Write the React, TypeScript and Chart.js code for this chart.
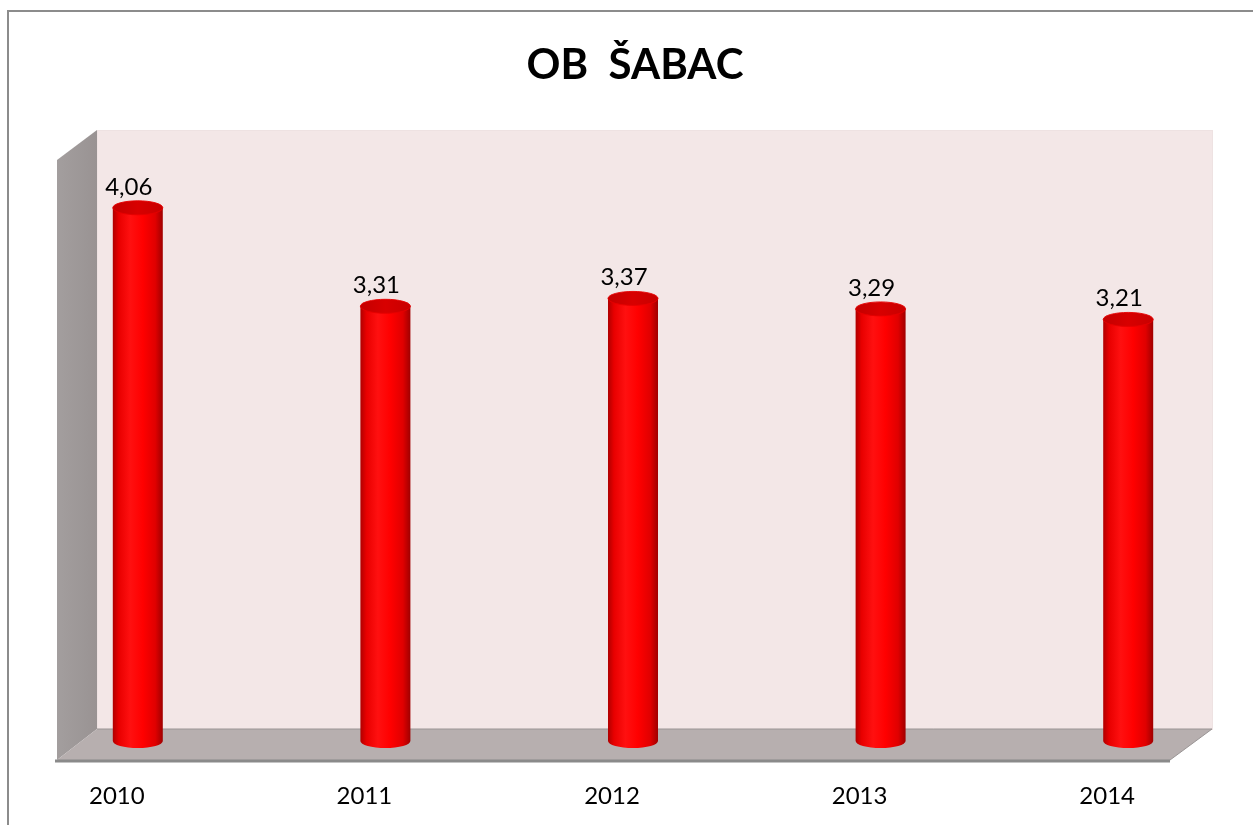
import React, { useEffect, useRef } from "react";
import { Chart, registerables } from "chart.js";

Chart.register(...registerables);

const TITLE = "OB  ŠABAC";
const CATEGORIES = ["2010", "2011", "2012", "2013", "2014"];
const VALUES = [4.06, 3.31, 3.37, 3.29, 3.21];
const VALUE_LABELS = ["4,06", "3,31", "3,37", "3,29", "3,21"];
const Y_MIN = 0;
const Y_MAX = 4.5;

const FONT = "Lato, 'Open Sans', sans-serif";

const decoPlugin = {
  id: "deco",
  beforeDraw(chart: any) {
    const ctx = chart.ctx;
    const ca = chart.chartArea;
    ctx.save();
    ctx.fillStyle = "#ffffff";
    ctx.fillRect(0, 0, chart.width, chart.height);
    // outer border (left + top)
    ctx.strokeStyle = "#8c8c8c";
    ctx.lineWidth = 2;
    ctx.beginPath();
    ctx.moveTo(8, chart.height);
    ctx.lineTo(8, 11);
    ctx.lineTo(chart.width, 11);
    ctx.stroke();

    const fl = ca.left + 43; // front left x
    const bl = fl + 40; // back left x
    const br = ca.right - 40; // back right x
    const fr = br - 42; // front right x
    const backTop = ca.top - 20;
    const backBottom = ca.bottom - 12;
    const frontBottom = ca.bottom + 19;
    const frontTop = backTop + 30;

    // back wall
    ctx.fillStyle = "#f3e7e7";
    ctx.fillRect(bl, backTop, br - bl, backBottom - backTop);
    ctx.strokeStyle = "#eee2e2";
    ctx.lineWidth = 1;
    ctx.strokeRect(bl + 0.5, backTop + 0.5, br - bl, backBottom - backTop);

    // left side wall
    const g = ctx.createLinearGradient(fl, 0, bl, 0);
    g.addColorStop(0, "#a39e9e");
    g.addColorStop(1, "#999393");
    ctx.fillStyle = g;
    ctx.beginPath();
    ctx.moveTo(fl, frontTop);
    ctx.lineTo(bl, backTop);
    ctx.lineTo(bl, backBottom);
    ctx.lineTo(fl, frontBottom);
    ctx.closePath();
    ctx.fill();

    // floor
    ctx.fillStyle = "#b7afaf";
    ctx.beginPath();
    ctx.moveTo(fl, frontBottom);
    ctx.lineTo(bl, backBottom);
    ctx.lineTo(br, backBottom);
    ctx.lineTo(fr, frontBottom);
    ctx.closePath();
    ctx.fill();
    ctx.strokeStyle = "#9a9595";
    ctx.lineWidth = 1;
    ctx.beginPath();
    ctx.moveTo(bl, backBottom);
    ctx.lineTo(br, backBottom);
    ctx.lineTo(fr, frontBottom);
    ctx.stroke();
    ctx.strokeStyle = "#8a8a8a";
    ctx.lineWidth = 3;
    ctx.beginPath();
    ctx.moveTo(fl - 2, frontBottom + 1);
    ctx.lineTo(fr, frontBottom + 1);
    ctx.stroke();

    // title
    ctx.fillStyle = "#000000";
    ctx.font = `bold 42px ${FONT}`;
    ctx.textAlign = "center";
    ctx.textBaseline = "alphabetic";
    ctx.fillText(TITLE, 635, 79);
    ctx.restore();
  },
  afterDatasetsDraw(chart: any) {
    const ctx = chart.ctx;
    const meta = chart.getDatasetMeta(0);
    ctx.save();
    meta.data.forEach((bar: any, i: number) => {
      const cx = bar.x;
      const top = bar.y;
      const base = bar.base;
      const w = bar.width;
      const rx = w / 2;
      const ry = 7;
      const grad = ctx.createLinearGradient(cx - rx, 0, cx + rx, 0);
      grad.addColorStop(0, "#b00000");
      grad.addColorStop(0.12, "#e80000");
      grad.addColorStop(0.35, "#ff1010");
      grad.addColorStop(0.6, "#ff0000");
      grad.addColorStop(0.85, "#e00000");
      grad.addColorStop(1, "#a00000");
      ctx.fillStyle = grad;
      ctx.beginPath();
      ctx.moveTo(cx - rx, top);
      ctx.lineTo(cx - rx, base);
      ctx.ellipse(cx, base, rx, ry, 0, Math.PI, 0, true);
      ctx.lineTo(cx + rx, top);
      ctx.closePath();
      ctx.fill();
      // top cap
      const tg = ctx.createLinearGradient(cx - rx, top, cx + rx, top);
      tg.addColorStop(0, "#c40000");
      tg.addColorStop(0.5, "#d80000");
      tg.addColorStop(1, "#c80000");
      ctx.fillStyle = tg;
      ctx.beginPath();
      ctx.ellipse(cx, top, rx, ry, 0, 0, Math.PI * 2);
      ctx.fill();
      ctx.strokeStyle = "rgba(230,0,0,0.9)";
      ctx.lineWidth = 1;
      ctx.stroke();

      // value label
      ctx.fillStyle = "#000000";
      ctx.font = `24px ${FONT}`;
      ctx.textAlign = "center";
      ctx.textBaseline = "alphabetic";
      ctx.fillText(VALUE_LABELS[i], cx - 9, top - 13);
    });
    ctx.restore();
  },
};

export default function App() {
  const ref = useRef<HTMLCanvasElement | null>(null);
  useEffect(() => {
    document.body.style.margin = "0";
    document.body.style.overflow = "hidden";
    if (!ref.current) return;
    const chart = new Chart(ref.current, {
      type: "bar",
      data: {
        labels: CATEGORIES,
        datasets: [
          {
            data: VALUES,
            backgroundColor: "rgba(0,0,0,0)",
            borderWidth: 0,
            barThickness: 50,
          },
        ],
      },
      options: {
        animation: false,
        responsive: false,
        devicePixelRatio: 1,
        layout: { padding: { left: 14, right: 1, top: 150, bottom: 20 } },
        plugins: {
          legend: { display: false },
          title: { display: false },
          tooltip: { enabled: false },
        },
        scales: {
          x: {
            offset: true,
            grid: { display: false },
            border: { display: false },
            afterFit: (axis: any) => {
              axis.height = 64;
            },
            ticks: {
              color: "#000000",
              font: { family: FONT, size: 24 },
              padding: 33,
              labelOffset: -21,
              maxRotation: 0,
            },
          },
          y: {
            display: false,
            min: Y_MIN,
            max: Y_MAX,
          },
        },
      },
      plugins: [decoPlugin],
    });
    return () => chart.destroy();
  }, []);
  return (
    <div style={{ position: "fixed", left: 0, top: 0, width: 1253, height: 825 }}>
      <canvas ref={ref} width={1253} height={825} style={{ display: "block" }} />
    </div>
  );
}
